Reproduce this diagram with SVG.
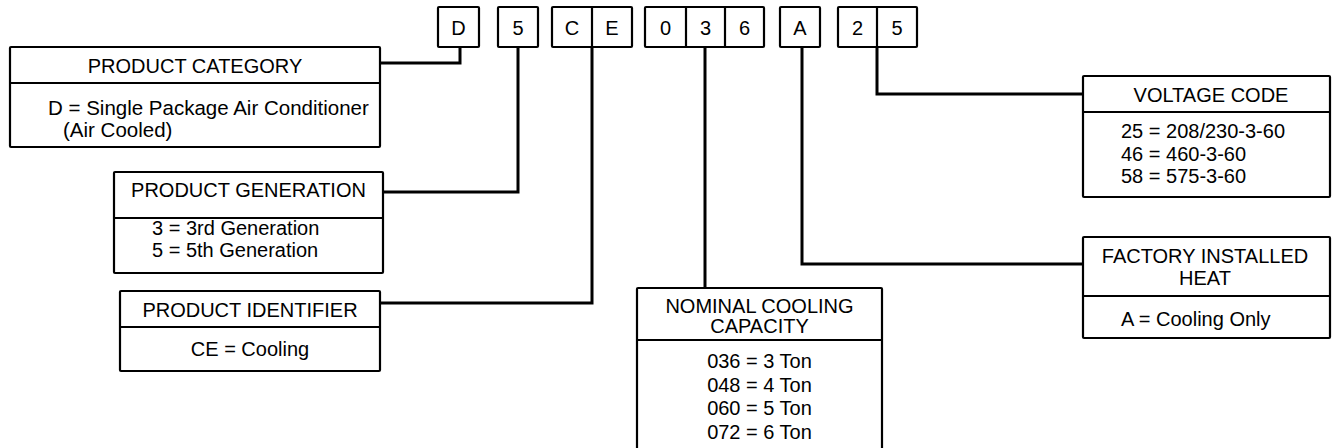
<svg xmlns="http://www.w3.org/2000/svg" width="1344" height="448" viewBox="0 0 1344 448">
<style>
rect, .div { fill: none; stroke: #000; stroke-width: 2.2; }
rect { fill: #fff; }
.cn { fill: none; stroke: #000; stroke-width: 3; }
text { font-family: "Liberation Sans", Arial, sans-serif; font-size: 20px; fill: #000; }
.c { text-anchor: middle; }
</style>
<rect x="0" y="0" width="1344" height="448" style="stroke:none"/>
<g id="connectors">
<polyline class="cn" points="460,47 460,63 380,63"/>
<polyline class="cn" points="518,47 518,192 383,192"/>
<polyline class="cn" points="592,47 592,303 380,303"/>
<polyline class="cn" points="705,47 705,288"/>
<polyline class="cn" points="802,47 802,264 1083,264"/>
<polyline class="cn" points="877,47 877,94 1083,94"/>
</g>
<g id="code">
<rect x="438" y="7" width="41" height="40" rx="1"/>
<text class="c" x="458.5" y="34.5">D</text>
<rect x="498" y="7" width="40" height="40" rx="1"/>
<text class="c" x="518" y="34.5">5</text>
<rect x="552" y="7" width="80" height="40" rx="1"/>
<line class="div" x1="592" y1="7" x2="592" y2="47"/>
<text class="c" x="572" y="34.5">C</text>
<text class="c" x="612" y="34.5">E</text>
<rect x="645" y="7" width="119" height="40" rx="1"/>
<line class="div" x1="686" y1="7" x2="686" y2="47"/>
<line class="div" x1="725" y1="7" x2="725" y2="47"/>
<text class="c" x="665.5" y="34.5">0</text>
<text class="c" x="705.5" y="34.5">3</text>
<text class="c" x="744.5" y="34.5">6</text>
<rect x="780" y="7" width="40" height="40" rx="1"/>
<text class="c" x="800" y="34.5">A</text>
<rect x="838" y="7" width="79" height="40" rx="1"/>
<line class="div" x1="877" y1="7" x2="877" y2="47"/>
<text class="c" x="857.5" y="34.5">2</text>
<text class="c" x="897" y="34.5">5</text>
</g>
<g id="product-category">
<rect x="10" y="47" width="370" height="100" rx="1"/>
<line class="div" x1="10" y1="83" x2="380" y2="83"/>
<text class="c" x="195" y="73">PRODUCT CATEGORY</text>
<text x="48" y="115" style="font-size:20.5px">D = Single Package Air Conditioner</text>
<text x="63" y="137" style="font-size:20.5px">(Air Cooled)</text>
</g>
<g id="product-generation">
<rect x="114" y="172" width="269" height="101" rx="1"/>
<line class="div" x1="114" y1="218" x2="383" y2="218"/>
<text class="c" x="248.5" y="197">PRODUCT GENERATION</text>
<text x="152" y="235">3 = 3rd Generation</text>
<text x="152" y="257">5 = 5th Generation</text>
</g>
<g id="product-identifier">
<rect x="120" y="291" width="260" height="80" rx="1"/>
<line class="div" x1="120" y1="327" x2="380" y2="327"/>
<text class="c" x="250" y="317">PRODUCT IDENTIFIER</text>
<text class="c" x="250" y="356">CE = Cooling</text>
</g>
<g id="nominal-cooling-capacity">
<rect x="637" y="288" width="245" height="180" rx="1"/>
<line class="div" x1="637" y1="340" x2="882" y2="340"/>
<text class="c" x="759.5" y="313">NOMINAL COOLING</text>
<text class="c" x="759.5" y="333">CAPACITY</text>
<text class="c" x="759.5" y="368">036 = 3 Ton</text>
<text class="c" x="759.5" y="391.5">048 = 4 Ton</text>
<text class="c" x="759.5" y="415">060 = 5 Ton</text>
<text class="c" x="759.5" y="439">072 = 6 Ton</text>
</g>
<g id="voltage-code">
<rect x="1083" y="76" width="247" height="121" rx="1"/>
<line class="div" x1="1083" y1="112" x2="1330" y2="112"/>
<text class="c" x="1211" y="102">VOLTAGE CODE</text>
<text x="1121" y="138">25 = 208/230-3-60</text>
<text x="1121" y="160.5">46 = 460-3-60</text>
<text x="1121" y="183">58 = 575-3-60</text>
</g>
<g id="factory-installed-heat">
<rect x="1083" y="237" width="247" height="101" rx="1"/>
<line class="div" x1="1083" y1="296" x2="1330" y2="296"/>
<text class="c" x="1205" y="263">FACTORY INSTALLED</text>
<text class="c" x="1205" y="285">HEAT</text>
<text x="1121" y="326">A = Cooling Only</text>
</g>
</svg>
